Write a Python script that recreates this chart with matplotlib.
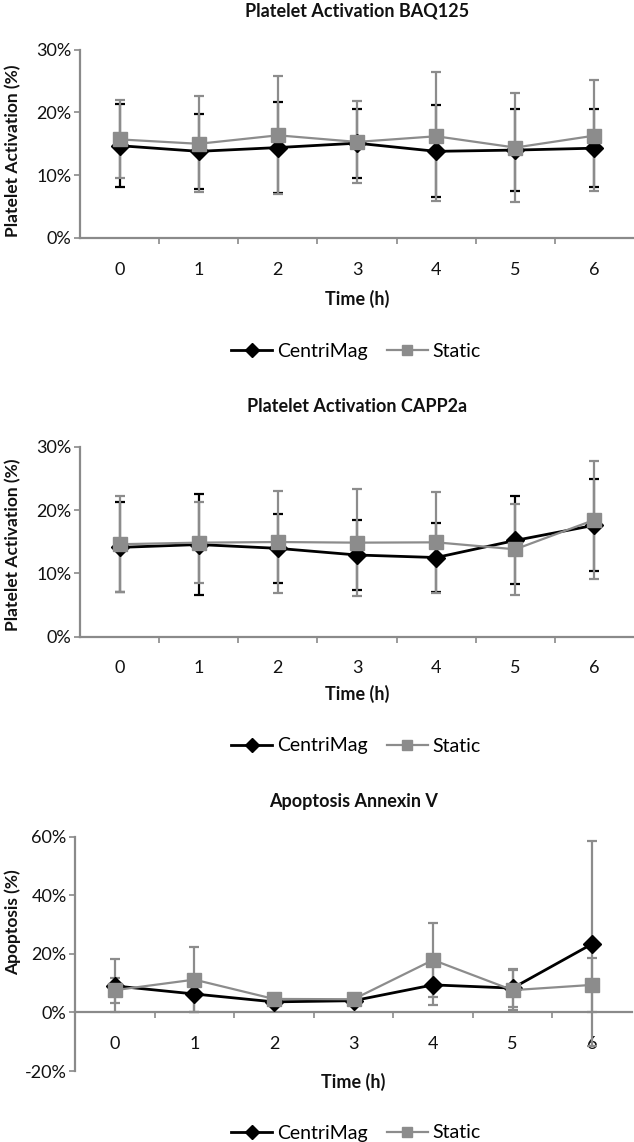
import matplotlib
matplotlib.use("Agg")
import matplotlib.pyplot as plt
from matplotlib.ticker import FuncFormatter, FixedLocator

plt.rcParams['font.family'] = ['Lato', 'DejaVu Sans']

hours = [0, 1, 2, 3, 4, 5, 6]
hour_labels = ['0', '1', '2', '3', '4', '5', '6']

# Panel 1: Platelet Activation BAQ125 (%)
baq_centrimag = [14.7, 13.8, 14.4, 15.1, 13.8, 14.0, 14.3]
baq_centrimag_err = [6.6, 6.0, 7.2, 5.5, 7.3, 6.5, 6.2]
baq_static = [15.7, 15.0, 16.35, 15.3, 16.2, 14.4, 16.3]
baq_static_err = [6.2, 7.6, 9.4, 6.5, 10.3, 8.7, 8.8]

# Panel 2: Platelet Activation CAPP2a (%)
capp_centrimag = [14.1, 14.55, 13.95, 12.9, 12.5, 15.2, 17.6]
capp_centrimag_err = [7.1, 7.95, 5.45, 5.5, 5.5, 6.95, 7.25]
capp_static = [14.6, 14.85, 14.95, 14.85, 14.9, 13.8, 18.45]
capp_static_err = [7.6, 6.35, 8.0, 8.45, 8.0, 7.2, 9.35]

# Panel 3: Apoptosis Annexin V (%)
apo_centrimag = [9.05, 6.3, 3.6, 4.0, 9.4, 8.3, 23.4]
apo_centrimag_err = [9.05, 6.3, 1.2, 1.2, 7.0, 6.6, 35.0]
apo_static = [7.6, 11.2, 4.6, 4.5, 17.9, 7.6, 9.4]
apo_static_err = [4.3, 11.2, 1.5, 1.2, 12.5, 6.9, 9.3]

titles = ['Platelet Activation BAQ125', 'Platelet Activation CAPP2a', 'Apoptosis Annexin V']
ylabels = ['Platelet Activation (%)', 'Platelet Activation (%)', 'Apoptosis (%)']
xlabel = 'Time (h)'
series_names = ['CentriMag', 'Static']

W, H = 634, 1142
fig = plt.figure(figsize=(W / 100, H / 100), dpi=100)

BLACK = '#000000'
GRAY = '#8c8c8c'
AXC = '#8a8a8a'

panels = [
    dict(data=(baq_centrimag, baq_centrimag_err, baq_static, baq_static_err),
         left=80, right=634, top=49.6, bottom=238, ylim=(0, 30), yticks=[0, 10, 20, 30],
         title_y=11, xlabel_y=299, ylabel_y=151, legend_y=351, cm_errc=BLACK),
    dict(data=(capp_centrimag, capp_centrimag_err, capp_static, capp_static_err),
         left=80, right=634, top=446.7, bottom=636.7, ylim=(0, 30), yticks=[0, 10, 20, 30],
         title_y=406, xlabel_y=694, ylabel_y=545, legend_y=746, cm_errc=BLACK),
    dict(data=(apo_centrimag, apo_centrimag_err, apo_static, apo_static_err),
         left=75, right=632, top=836.7, bottom=1071, ylim=(-20, 60), yticks=[-20, 0, 20, 40, 60],
         title_y=801, xlabel_y=1082, ylabel_y=922, legend_y=1133, cm_errc=GRAY),
]

pct = FuncFormatter(lambda v, p: f'{v:.0f}%')

for i, pnl in enumerate(panels):
    l, r, t, b = pnl['left'], pnl['right'], pnl['top'], pnl['bottom']
    ax = fig.add_axes([l / W, 1 - b / H, (r - l) / W, (b - t) / H])
    cm, cm_err, st, st_err = pnl['data']

    ax.errorbar(hours, cm, yerr=cm_err, fmt='none', ecolor=pnl['cm_errc'],
                elinewidth=1.6, capsize=3.6, capthick=1.6, zorder=2)
    ax.errorbar(hours, st, yerr=st_err, fmt='none', ecolor=GRAY,
                elinewidth=1.6, capsize=3.6, capthick=1.6, zorder=2.5)
    l1, = ax.plot(hours, cm, color=BLACK, lw=2.0, marker='D', ms=9.5,
                  markerfacecolor=BLACK, markeredgecolor=BLACK, zorder=3,
                  label=series_names[0])
    l2, = ax.plot(hours, st, color=GRAY, lw=1.6, marker='s', ms=9.5,
                  markerfacecolor=GRAY, markeredgecolor=GRAY, zorder=3.5,
                  label=series_names[1])

    ax.set_xlim(-0.5, 6.5)
    ax.set_ylim(*pnl['ylim'])
    ax.set_yticks(pnl['yticks'])
    ax.yaxis.set_major_formatter(pct)

    # category axis: ticks between categories, labels at categories
    ax.xaxis.set_major_locator(FixedLocator([x + 0.5 for x in hours[:-1]]))
    ax.xaxis.set_major_formatter(FuncFormatter(lambda v, p: ''))
    ax.xaxis.set_minor_locator(FixedLocator(hours))
    ax.set_xticklabels(hour_labels, minor=True)
    ax.tick_params(axis='x', which='major', length=4, width=1.2, color=AXC, direction='out')
    ax.tick_params(axis='x', which='minor', length=0, pad=17, labelsize=13, labelcolor='#111111')
    ax.tick_params(axis='y', length=4, width=1.2, color=AXC, labelsize=13,
                   labelcolor='#111111', pad=2)

    for s in ['top', 'right']:
        ax.spines[s].set_visible(False)
    for s in ['left', 'bottom']:
        ax.spines[s].set_color(AXC)
        ax.spines[s].set_linewidth(1.6)
    if pnl['ylim'][0] < 0:
        ax.spines['bottom'].set_position(('data', 0))
    ax.patch.set_visible(False)

    cx = (l + r) / 2 / W
    fig.text(cx, 1 - pnl['title_y'] / H, titles[i], ha='center', va='center',
             fontsize=13, fontweight='bold', color='#111111')
    fig.text(cx, 1 - pnl['xlabel_y'] / H, xlabel, ha='center', va='center',
             fontsize=13, fontweight='bold', color='#111111')
    fig.text(13 / W, 1 - pnl['ylabel_y'] / H, ylabels[i], ha='center', va='center',
             rotation=90, fontsize=12.5, fontweight='bold', color='#111111')

    fig.legend(handles=[l1, l2], loc='center', ncol=2, frameon=False,
               bbox_to_anchor=(356 / W, 1 - pnl['legend_y'] / H),
               fontsize=14, handlelength=2.1, columnspacing=1.0, handletextpad=0.25,
               markerscale=0.75)

fig.savefig('out.png', dpi=100)
